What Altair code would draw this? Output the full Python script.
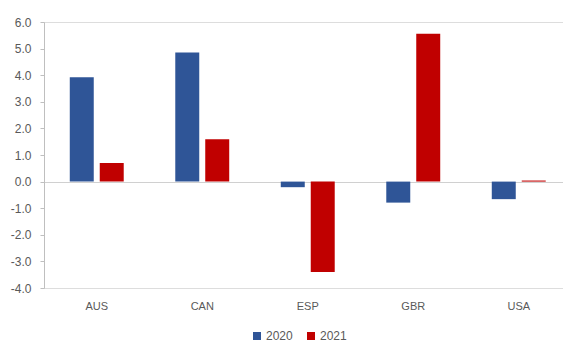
import altair as alt
import pandas as pd

# Country codes and annual values (percent)
countries = ["AUS", "CAN", "ESP", "GBR", "USA"]
years = ["2020", "2021"]
values_2020 = [3.92, 4.85, -0.21, -0.79, -0.66]
values_2021 = [0.70, 1.59, -3.40, 5.56, 0.04]
y_ticks = [-4, -3, -2, -1, 0, 1, 2, 3, 4, 5, 6]

rows = []
for i, c in enumerate(countries):
    rows.append({"country": c, "year": years[0], "value": values_2020[i]})
    rows.append({"country": c, "year": years[1], "value": values_2021[i]})
df = pd.DataFrame(rows)

W, H = 519, 266
FONT = "Liberation Sans"
GREY = "#595959"

chart = alt.Chart(df).mark_bar().encode(
    x=alt.X(
        "country:N",
        sort=countries,
        scale=alt.Scale(range=[0, 527.5], paddingInner=0, paddingOuter=0),
        axis=alt.Axis(
            title=None, domain=False, ticks=False, labelAngle=0,
            labelPadding=12, labelFont=FONT, labelFontSize=11, labelColor=GREY,
        ),
    ),
    xOffset=alt.XOffset("year:N", scale=alt.Scale(paddingInner=0.2, paddingOuter=0.86)),
    y=alt.Y(
        "value:Q",
        scale=alt.Scale(domain=[-4, 6], nice=False, zero=False),
        axis=alt.Axis(
            title=None, values=y_ticks, format=".1f",
            labelExpr="replace(format(datum.value, '.1f'), '\u2212', '-')",
            labelOverlap=False,
            # only the zero gridline is shown, as a baseline
            grid=True,
            gridColor={"condition": {"test": "datum.value === 0", "value": "#D0D0D0"},
                       "value": "transparent"},
            domainColor="#BFBFBF", tickColor="#BFBFBF", tickSize=4,
            labelPadding=9, labelFont=FONT, labelFontSize=12, labelColor=GREY,
        ),
    ),
    color=alt.Color(
        "year:N",
        scale=alt.Scale(domain=years, range=["#2F5597", "#C00000"]),
        legend=alt.Legend(
            title=None, orient="none", direction="horizontal",
            legendX=207, legendY=308, symbolType="square", symbolSize=64,
            symbolStrokeWidth=0, labelFont=FONT, labelFontSize=12,
            labelColor=GREY, columnPadding=12, labelOffset=3,
        ),
    ),
).properties(
    width=W,
    height=H,
    autosize=alt.AutoSizeParams(type="none"),
    padding={"left": 44, "top": 22, "right": 0, "bottom": 55},
).configure_view(stroke=None).configure(background="white")

chart.save("out.html", embed_options={"renderer": "svg", "actions": False})
